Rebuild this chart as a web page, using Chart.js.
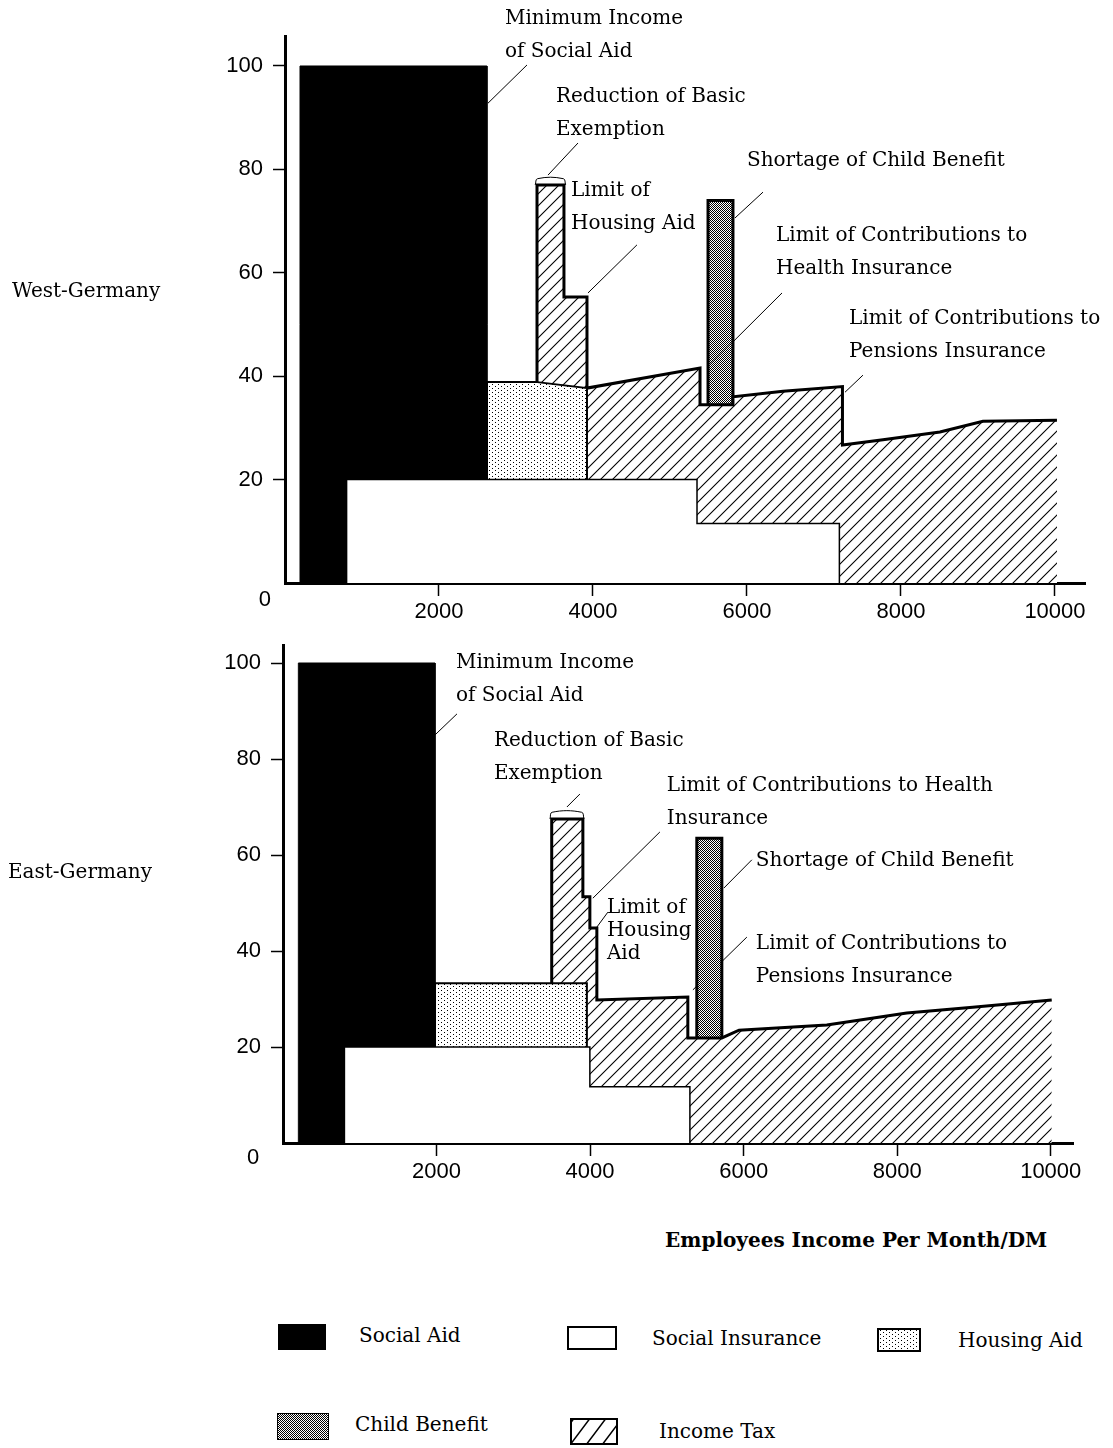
<!DOCTYPE html>
<html>
<head>
<meta charset="utf-8">
<script src="https://cdn.jsdelivr.net/npm/chart.js@4.4.1/dist/chart.umd.min.js"></script>
<style>
html,body{margin:0;padding:0;background:#fff;}
#wrap{position:relative;width:1113px;height:1448px;overflow:hidden;background:#fff;font-family:"DejaVu Serif",serif;color:#000;}
#c1{position:absolute;left:0;top:0;}
#c2{position:absolute;left:0;top:620px;}
.t{position:absolute;white-space:nowrap;font-size:20px;line-height:24px;height:24px;}
.b{font-weight:bold;font-size:20px;}
.sw{position:absolute;}
</style>
</head>
<body>
<div id="wrap">
  <canvas id="c1" width="1113" height="620"></canvas>
  <canvas id="c2" width="1113" height="580"></canvas>
  <div class="t" style="left:12px;top:278px;">West-Germany</div>
  <div class="t" style="left:8px;top:859px;">East-Germany</div>
  <div class="t b" style="left:665px;top:1228px;">Employees Income Per Month/DM</div>
  <div id="legend"></div>
</div>
<script>
// ---------------- DATA ----------------
const seriesNames = ['Social Aid', 'Social Insurance', 'Housing Aid', 'Child Benefit', 'Income Tax'];
const xTicks = [2000, 4000, 6000, 8000, 10000];
const yTicks = [20, 40, 60, 80, 100];

// West Germany (x = employees income per month in DM, y = percent)
const westSocialAidX = [195, 195, 2623, 2623];
const westSocialAidY = [0, 100, 100, 0];
const westSocialInsX = [800, 800, 5351, 5351, 7200, 7200];
const westSocialInsY = [0, 20, 20, 11.5, 11.5, 0];
const westHousingX = [2623, 2623, 3250, 3922, 3922];
const westHousingY = [0, 38.9, 38.9, 37.7, 0];
const westChildX = [5494, 5494, 5818, 5818];
const westChildY = [0, 74, 74, 0];
const westTaxX = [3273, 3273, 3623, 3623, 3922, 3922, 5390, 5390, 5818, 5818, 6468, 7240, 7240, 7766, 8506, 9065, 10026];
const westTaxY = [38.9, 77, 77, 55.3, 55.3, 37.7, 41.6, 34.5, 34.5, 36, 37.1, 38, 26.7, 27.7, 29.2, 31.3, 31.5];
const westExemptX = [3250, 3280, 3615, 3645];
const westExemptY = [77, 78.2, 78.2, 77];

// East Germany
const eastSocialAidX = [200, 200, 1980, 1980];
const eastSocialAidY = [0, 100, 100, 0];
const eastSocialInsX = [800, 800, 3997, 3997, 5300, 5300];
const eastSocialInsY = [0, 20, 20, 11.7, 11.7, 0];
const eastHousingX = [1980, 1980, 3958, 3958];
const eastHousingY = [0, 33.3, 33.3, 0];
const eastChildX = [5390, 5390, 5716, 5716];
const eastChildY = [0, 63.5, 63.5, 0];
const eastTaxX = [3500, 3500, 3906, 3906, 3997, 3997, 4088, 4088, 5273, 5273, 5390, 5716, 5940, 7083, 8125, 8984, 10013];
const eastTaxY = [33.3, 67.5, 67.5, 51.3, 51.3, 44.8, 44.8, 29.8, 30.4, 21.9, 21.9, 21.9, 23.5, 24.6, 27.1, 28.3, 29.8];
const eastExemptX = [3478, 3505, 3890, 3920];
const eastExemptY = [67.5, 68.9, 68.9, 67.5];

// ---------------- PATTERNS ----------------
function tile(w, h, draw) {
  const c = document.createElement('canvas');
  c.width = w; c.height = h;
  const g = c.getContext('2d');
  g.fillStyle = '#fff'; g.fillRect(0, 0, w, h);
  draw(g, w, h);
  return c;
}
const hatchTile = tile(12, 12, (g, s) => {
  g.strokeStyle = '#000'; g.lineWidth = 1.1;
  g.beginPath();
  g.moveTo(-1, s + 1); g.lineTo(s + 1, -1);
  g.moveTo(-3, 3); g.lineTo(3, -3);
  g.moveTo(s - 3, s + 3); g.lineTo(s + 3, s - 3);
  g.stroke();
});
const dotTile = tile(6, 4, (g) => {
  g.fillStyle = '#000';
  g.fillRect(0, 0, 1, 1);
  g.fillRect(3, 2, 1, 1);
});
const checkTile = tile(2, 2, (g) => {
  g.fillStyle = '#000';
  g.fillRect(0, 0, 1, 1);
  g.fillRect(1, 1, 1, 1);
});
const pctx = document.createElement('canvas').getContext('2d');
const hatchPat = pctx.createPattern(hatchTile, 'repeat');
const dotPat = pctx.createPattern(dotTile, 'repeat');
const checkPat = pctx.createPattern(checkTile, 'repeat');

function pts(xs, ys) { return xs.map((x, i) => ({x: x, y: ys[i]})); }

function areaSet(label, xs, ys, fillStyle, bw, order) {
  return {
    label: label, data: pts(xs, ys), fill: 'origin', backgroundColor: fillStyle,
    borderColor: '#000', borderWidth: bw, pointRadius: 0, tension: 0, order: order,
    borderJoinStyle: 'miter', borderCapStyle: 'butt'
  };
}

function annotPlugin(items, zero) {
  function drawItems(chart, under) {
    const ctx = chart.ctx, x = chart.scales.x, y = chart.scales.y;
    ctx.save();
    ctx.strokeStyle = '#000'; ctx.fillStyle = '#000'; ctx.lineWidth = 1;
    for (const a of items) {
      if (a.leader && !!a.under === under) {
        ctx.beginPath();
        ctx.moveTo(x.getPixelForValue(a.leader[0]), y.getPixelForValue(a.leader[1]));
        ctx.lineTo(x.getPixelForValue(a.leader[2]), y.getPixelForValue(a.leader[3]));
        ctx.stroke();
      }
    }
    ctx.restore();
  }
  return {
    id: 'annot',
    beforeDatasetsDraw(chart) { drawItems(chart, true); },
    afterDatasetsDraw(chart) {
      drawItems(chart, false);
      const ctx = chart.ctx, x = chart.scales.x, y = chart.scales.y;
      ctx.save();
      ctx.fillStyle = '#000';
      ctx.font = '20px "DejaVu Serif"';
      ctx.textBaseline = 'middle';
      ctx.textAlign = 'left';
      for (const a of items) {
        const px = x.getPixelForValue(a.at[0]), py = y.getPixelForValue(a.at[1]);
        a.lines.forEach((t, i) => ctx.fillText(t, px, py + i * (a.gap || 33)));
      }
      ctx.font = '22px "Liberation Sans"';
      ctx.textAlign = 'center';
      ctx.fillText('0', x.getPixelForValue(zero[0]), y.getPixelForValue(zero[1]));
      ctx.restore();
    }
  };
}

function makeChart(canvas, o) {
  return new Chart(canvas, {
    type: 'line',
    data: {
      datasets: [
        areaSet(seriesNames[3], o.child[0], o.child[1], checkPat, 3, 6),
        areaSet(seriesNames[4], o.tax[0], o.tax[1], hatchPat, 3, 5),
        areaSet(seriesNames[2], o.housing[0], o.housing[1], dotPat, 2, 4),
        areaSet(seriesNames[0], o.aid[0], o.aid[1], '#000', 1, 3),
        areaSet(seriesNames[1], o.ins[0], o.ins[1], '#fff', 1.5, 2),
        {label: 'Reduction of Basic Exemption', data: pts(o.exempt[0], o.exempt[1]), fill: false,
         borderColor: '#000', borderWidth: 1, pointRadius: 0, tension: 0.4, order: 1}
      ]
    },
    options: {
      responsive: false, animation: false, events: [],
      layout: {padding: o.padding},
      plugins: {legend: {display: false}, tooltip: {enabled: false}},
      scales: {
        x: {
          type: 'linear', min: 0, max: o.xMax,
          afterBuildTicks: s => { s.ticks = xTicks.map(v => ({value: v})); },
          afterFit: s => { s.height = o.xH; },
          border: {display: true, width: 3, color: '#000'},
          grid: {display: true, drawOnChartArea: false, drawTicks: true, tickLength: 13, tickWidth: 1.5, tickColor: '#000'},
          ticks: {autoSkip: false, maxRotation: 0, padding: 3, color: '#000',
                  font: {family: 'Liberation Sans', size: 22}, callback: v => String(v)}
        },
        y: {
          type: 'linear', min: 0, max: o.yMax,
          afterBuildTicks: s => { s.ticks = yTicks.map(v => ({value: v})); },
          afterFit: s => { s.width = o.yW; },
          border: {display: true, width: 3, color: '#000'},
          grid: {display: true, drawOnChartArea: false, drawTicks: true, tickLength: 12, tickWidth: 1.5, tickColor: '#000'},
          ticks: {padding: 10, color: '#000', font: {family: 'Liberation Sans', size: 22}, callback: v => String(v)}
        }
      }
    },
    plugins: [annotPlugin(o.notes, o.zero)]
  });
}

makeChart(document.getElementById('c1'), {
  aid: [westSocialAidX, westSocialAidY], ins: [westSocialInsX, westSocialInsY],
  housing: [westHousingX, westHousingY], child: [westChildX, westChildY],
  tax: [westTaxX, westTaxY], exempt: [westExemptX, westExemptY],
  xMax: 10390, yMax: 105.8, yW: 285, xH: 37, padding: {left: 0, top: 36, right: 28, bottom: 0},
  zero: [-260, -3.3],
  notes: [
    {lines: ['Minimum Income', 'of Social Aid'], at: [2857, 109.1], leader: [2636, 92.8, 3143, 100.2]},
    {lines: ['Reduction of Basic', 'Exemption'], at: [3519, 94.0], leader: [3416, 78.9, 3805, 85.1]},
    {lines: ['Limit of', 'Housing Aid'], at: [3714, 75.8], leader: [3935, 56.1, 4571, 65.4]},
    {lines: ['Shortage of Child Benefit'], at: [6000, 81.6], leader: [5844, 70.6, 6208, 75.6]},
    {lines: ['Limit of Contributions to', 'Health Insurance'], at: [6377, 67.1], leader: [5519, 42.2, 6455, 56.1]},
    {lines: ['Limit of Contributions to', 'Pensions Insurance'], at: [7325, 51.1], leader: [7273, 36.9, 7506, 40.2]}
  ]
});

makeChart(document.getElementById('c2'), {
  aid: [eastSocialAidX, eastSocialAidY], ins: [eastSocialInsX, eastSocialInsY],
  housing: [eastHousingX, eastHousingY], child: [eastChildX, eastChildY],
  tax: [eastTaxX, eastTaxY], exempt: [eastExemptX, eastExemptY],
  xMax: 10290, yMax: 103.75, yW: 283, xH: 57, padding: {left: 0, top: 25, right: 40, bottom: 0},
  zero: [-390, -3.1],
  notes: [
    {lines: ['Minimum Income', 'of Social Aid'], at: [2253, 100], leader: [1979, 85, 2266, 89.4]},
    {lines: ['Reduction of Basic', 'Exemption'], at: [2747, 83.75], leader: [3698, 70, 3867, 72.7]},
    {lines: ['Limit of Contributions to Health', 'Insurance'], at: [5000, 74.4], leader: [4036, 51.0, 4909, 64.8]},
    {lines: ['Shortage of Child Benefit'], at: [6159, 58.75], leader: [5742, 53.1, 6107, 59]},
    {lines: ['Limit of', 'Housing', 'Aid'], at: [4219, 49], gap: 23, leader: [4089, 45, 4232, 48.1]},
    {lines: ['Limit of Contributions to', 'Pensions Insurance'], at: [6159, 41.5], leader: [6042, 42.9, 5339, 31.9], under: true}
  ]
});

// ---------------- LEGEND ----------------
const legendItems = [
  {name: seriesNames[0], box: [278, 1324, 48, 26], fill: '#000', bw: 1, text: [359, 1335]},
  {name: seriesNames[1], box: [567, 1326, 50, 24], fill: '#fff', bw: 2, text: [652, 1338]},
  {name: seriesNames[2], box: [877, 1328, 44, 24], fill: 'dot', bw: 2, text: [958, 1340]},
  {name: seriesNames[3], box: [277, 1413, 52, 27], fill: 'check', bw: 1, text: [355, 1424]},
  {name: seriesNames[4], box: [570, 1418, 48, 27], fill: 'hatch', bw: 2, text: [659, 1431]}
];
const legend = document.getElementById('legend');
legendItems.forEach(it => {
  const [l, t, w, h] = it.box;
  const c = document.createElement('canvas');
  c.width = w; c.height = h; c.className = 'sw';
  c.style.left = l + 'px'; c.style.top = t + 'px';
  const g = c.getContext('2d');
  if (it.fill === 'dot') g.fillStyle = g.createPattern(dotTile, 'repeat');
  else if (it.fill === 'check') g.fillStyle = g.createPattern(checkTile, 'repeat');
  else if (it.fill === 'hatch') g.fillStyle = '#fff';
  else g.fillStyle = it.fill;
  g.fillRect(0, 0, w, h);
  if (it.fill === 'hatch') {
    g.strokeStyle = '#000'; g.lineWidth = 1.5;
    g.beginPath();
    for (let k = -1; k < 4; k++) {
      const x0 = k * 16;
      g.moveTo(x0, h); g.lineTo(x0 + h * 0.75, 0);
    }
    g.stroke();
  }
  g.strokeStyle = '#000'; g.lineWidth = it.bw;
  g.strokeRect(it.bw / 2, it.bw / 2, w - it.bw, h - it.bw);
  legend.appendChild(c);
  const d = document.createElement('div');
  d.className = 't';
  d.textContent = it.name;
  d.style.left = it.text[0] + 'px';
  d.style.top = (it.text[1] - 12) + 'px';
  legend.appendChild(d);
});
</script>
</body>
</html>
